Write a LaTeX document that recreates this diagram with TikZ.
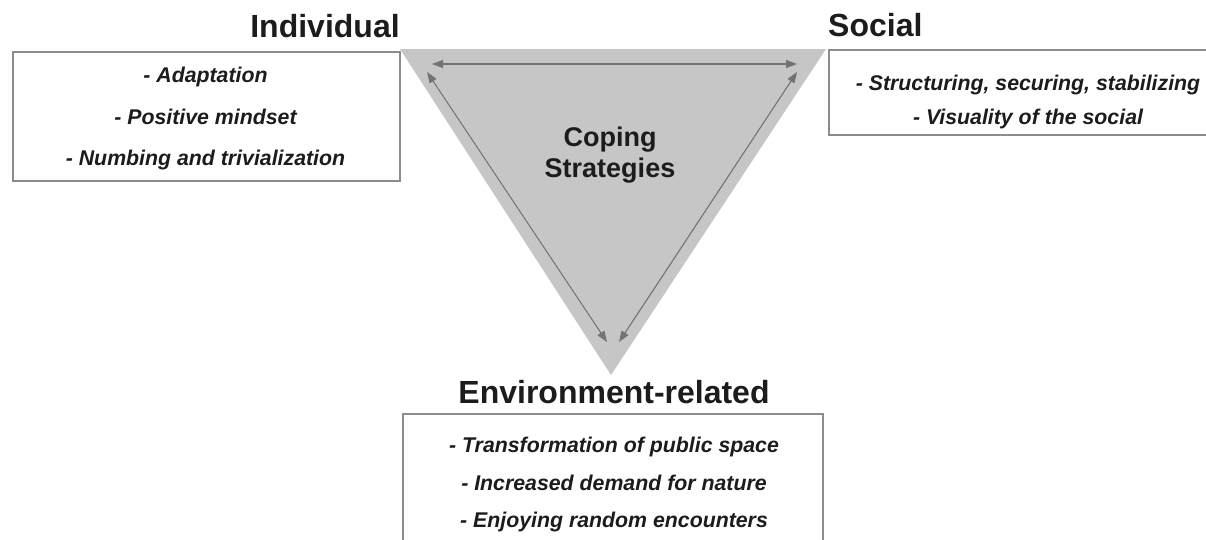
\documentclass[tikz,border=0pt]{standalone}
\usepackage{fontspec}
\setmainfont{Liberation Sans}
\usetikzlibrary{arrows.meta}
\definecolor{trifill}{RGB}{198,198,198}
\definecolor{boxline}{RGB}{140,140,140}
\definecolor{arrowgray}{RGB}{115,115,115}
\definecolor{txt}{RGB}{28,28,28}
\begin{document}
\begin{tikzpicture}[x=1pt,y=-1pt,
  title/.style={font=\bfseries\fontsize{32}{38}\selectfont, text=txt, inner sep=0pt, anchor=base},
  item/.style={font=\bfseries\itshape\fontsize{21.3}{25}\selectfont, text=txt, inner sep=0pt, anchor=base},
  centre/.style={font=\bfseries\fontsize{27}{31}\selectfont, text=txt, inner sep=0pt, align=center},
  listbox/.style={draw=boxline, line width=2pt, fill=white, inner sep=0pt, anchor=north west},
  link/.style={draw=arrowgray, line width=1.1pt, {Triangle[length=11pt,width=8pt]}-{Triangle[length=11pt,width=8pt]}}]
\useasboundingbox (0,0) rectangle (1206,539);
% central triangle
\fill[trifill] (400,49) -- (826,49) -- (611,375) -- cycle;
% boxes
\node[listbox, minimum width=387pt, minimum height=129pt] (indbox) at (12,51) {};
\node[listbox, minimum width=387pt, minimum height=85pt] (socbox) at (828,49) {};
\node[listbox, minimum width=420pt, minimum height=140pt] (envbox) at (402,413) {};
% arrows
\coordinate (hl) at (432,64);
\coordinate (hr) at (797,64);
\coordinate (lt) at (427,72);
\coordinate (lb) at (607,342);
\coordinate (rt) at (797,72);
\coordinate (rb) at (619,342);
\draw[link] (hl) -- (hr);
\draw[link] (lt) -- (lb);
\draw[link] (rt) -- (rb);
% centre text
\node[centre] (cope) at (610,155.5) {Coping\\Strategies};
% titles
\node[title] (ind) at (325,37) {Individual};
\node[title, anchor=base west] (soc) at (828,36) {Social};
\node[title] (env) at (614,403) {Environment-related};
% individual items
\node[item] (i1) at (205.5,82) {- Adaptation};
\node[item] (i2) at (205.5,124) {- Positive mindset};
\node[item] (i3) at (205.5,165) {- Numbing and trivialization};
% social items
\node[item] (s1) at (1028,90) {- Structuring, securing, stabilizing};
\node[item] (s2) at (1028,124) {- Visuality of the social};
% environment items
\node[item] (e1) at (614,452) {- Transformation of public space};
\node[item] (e2) at (614,490) {- Increased demand for nature};
\node[item] (e3) at (614,527) {- Enjoying random encounters};
\end{tikzpicture}
\end{document}
